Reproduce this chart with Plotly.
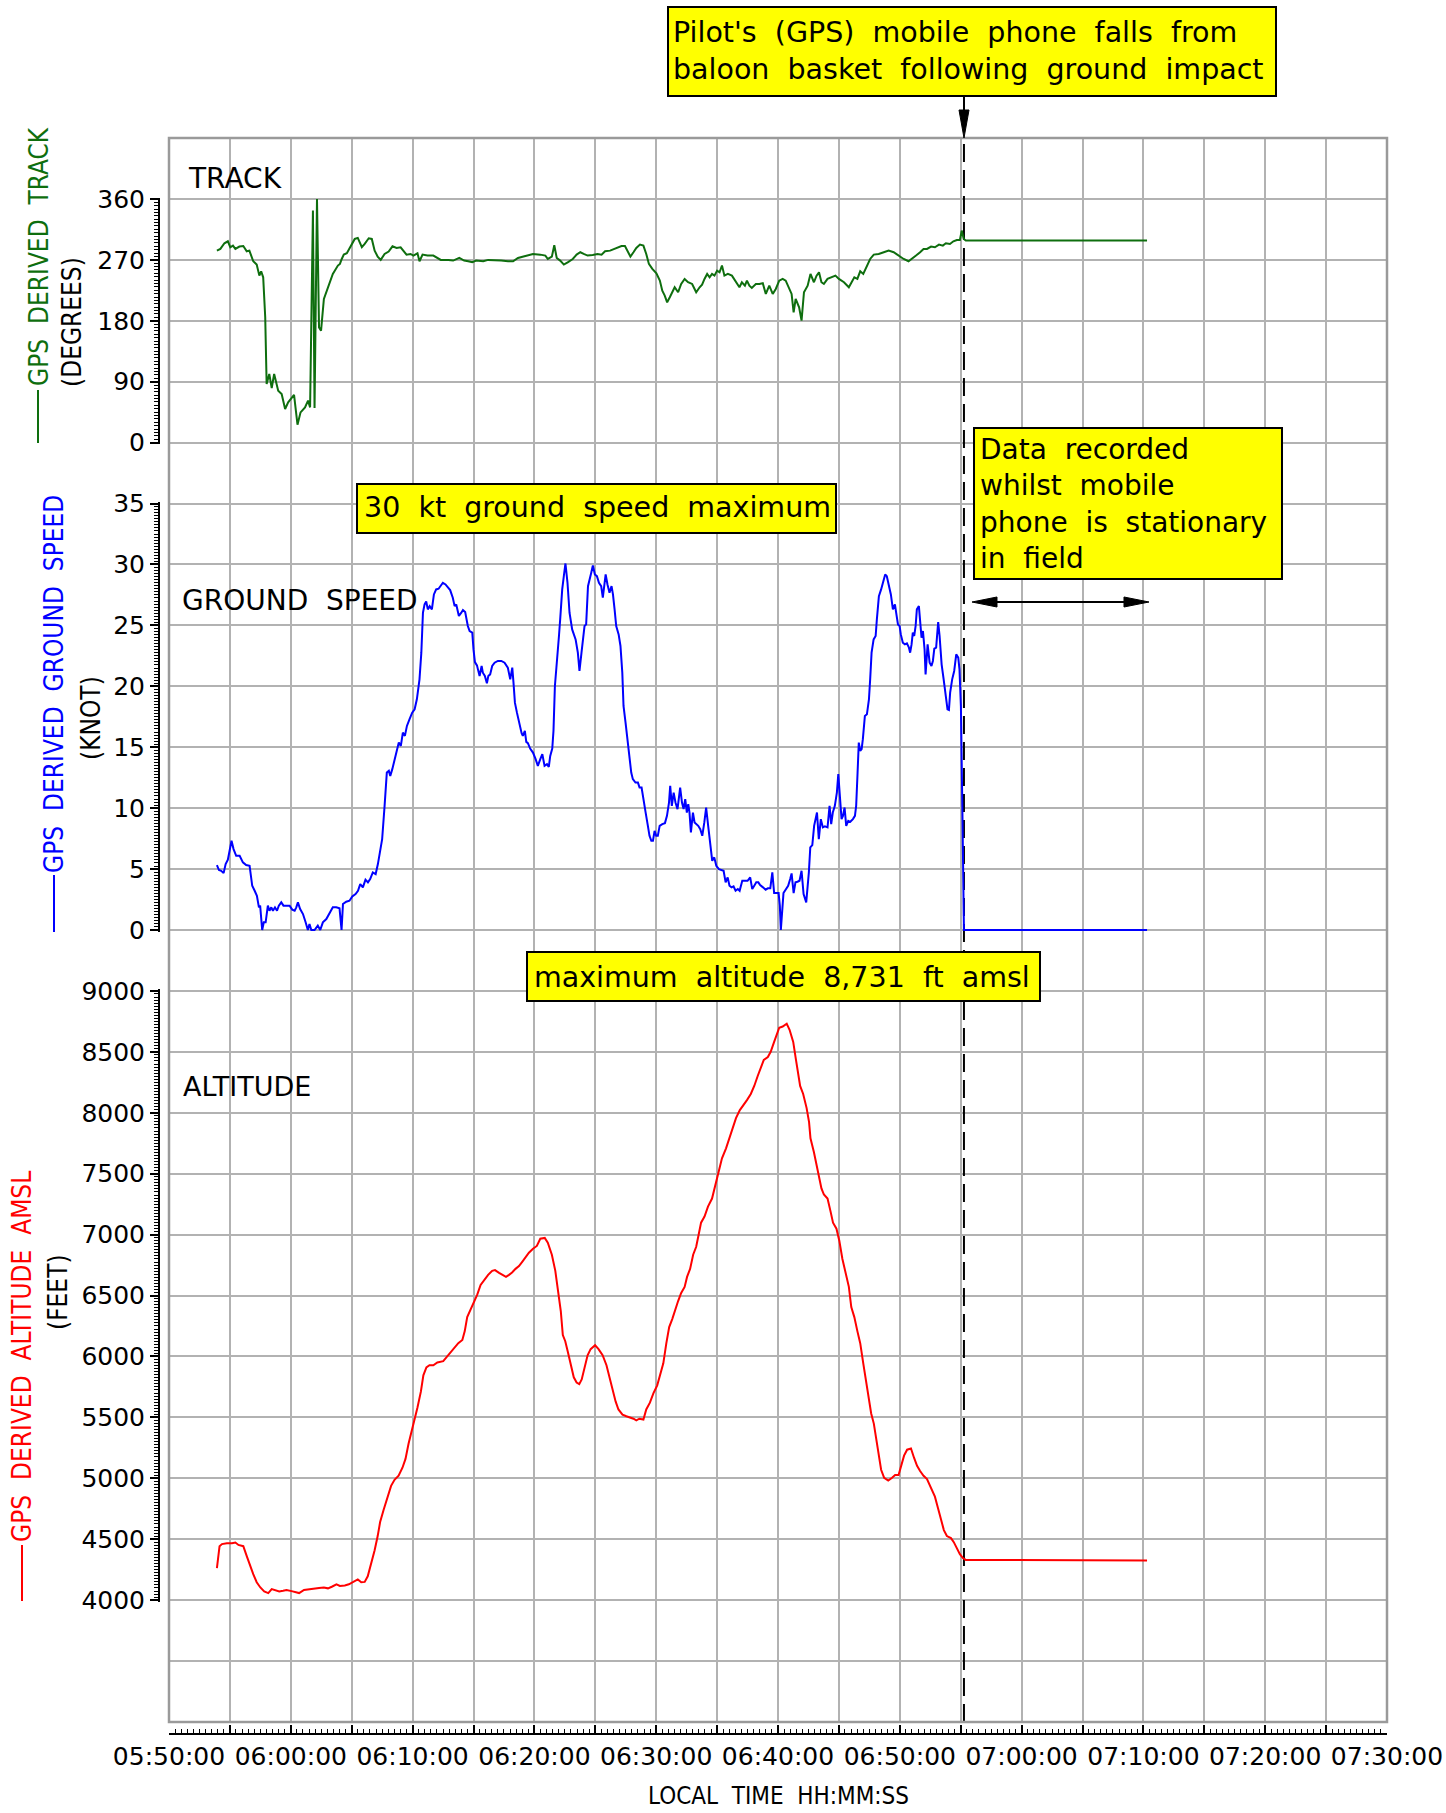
import plotly.graph_objects as go
import pandas as pd

# ---------------- data (time = seconds after 05:50:00 local) ----------------
DAY = "2000-01-01"
BASE = pd.Timestamp(DAY + " 05:50:00")

track_t_s = [236, 253, 273, 290, 302, 315, 327, 347, 366, 383, 396, 415, 432, 445, 454, 464, 474, 481, 494, 506,
             518, 538, 555, 572, 587, 616, 633, 648, 670, 685, 695, 709, 717, 729, 739, 749, 763, 783, 807, 832,
             842, 851, 861, 876, 896, 915, 930, 950, 964, 984, 999, 1013, 1028, 1043, 1062, 1082, 1101, 1121, 1141, 1155,
             1170, 1190, 1204, 1224, 1234, 1249, 1273, 1302, 1322, 1339, 1376, 1400, 1430, 1454, 1474, 1494, 1513, 1548, 1572, 1601,
             1636, 1670, 1695, 1719, 1749, 1768, 1793, 1829, 1854, 1866, 1886, 1898, 1910, 1927, 1945, 1964, 1989, 2008, 2026, 2043,
             2062, 2087, 2111, 2131, 2148, 2173, 2190, 2209, 2229, 2246, 2263, 2273, 2288, 2302, 2320, 2337, 2351, 2364, 2381, 2401,
             2418, 2430, 2442, 2454, 2467, 2479, 2491, 2508, 2523, 2540, 2557, 2577, 2597, 2614, 2626, 2638, 2651, 2663, 2675, 2687,
             2700, 2712, 2724, 2736, 2753, 2773, 2793, 2810, 2822, 2837, 2847, 2859, 2871, 2891, 2908, 2925, 2940, 2957, 2974, 2989,
             3006, 3023, 3038, 3053, 3067, 3077, 3087, 3104, 3116, 3128, 3146, 3160, 3177, 3190, 3202, 3214, 3226, 3244, 3263, 3283,
             3300, 3325, 3349, 3361, 3376, 3391, 3405, 3420, 3435, 3454, 3472, 3496, 3521, 3545, 3570, 3594, 3619, 3643, 3660, 3680,
             3700, 3717, 3734, 3754, 3773, 3793, 3812, 3827, 3847, 3864, 3881, 3896, 3905, 3915, 3925, 4818]
track_deg = [283.6, 286.1, 294.5, 297.4, 288.6, 291.0, 286.1, 289.6, 290.5, 282.7, 283.6, 267.9, 263.0, 246.7, 253.1, 244.2, 185.1, 86.6, 101.4, 80.7,
             101.4, 76.8, 71.8, 49.7, 59.5, 70.4, 26.5, 44.7, 52.1, 62.0, 52.1, 342.8, 51.1, 360.0, 170.3, 165.4, 212.2, 229.5, 249.2, 261.5,
             264.0, 271.3, 277.7, 279.7, 291.0, 300.9, 302.4, 288.6, 293.5, 301.9, 300.9, 283.6, 274.8, 269.9, 278.7, 282.2, 290.0, 287.6, 288.6, 283.6,
             277.7, 278.7, 276.3, 279.7, 267.9, 277.7, 276.3, 276.3, 272.8, 269.9, 269.9, 268.9, 272.8, 268.9, 267.9, 266.4, 268.9, 267.9, 269.9, 269.9,
             268.9, 267.9, 267.9, 272.8, 274.8, 276.3, 278.7, 277.7, 276.3, 271.3, 274.8, 291.5, 272.8, 268.9, 263.0, 266.4, 271.3, 277.7, 281.2, 278.7,
             276.3, 277.2, 278.7, 277.7, 282.7, 283.6, 285.6, 287.6, 290.5, 290.5, 281.2, 274.8, 281.2, 287.6, 292.5, 291.0, 278.7, 264.0, 256.6, 250.1,
             239.3, 224.5, 217.1, 207.3, 214.7, 222.1, 229.5, 222.1, 234.4, 241.8, 236.9, 234.4, 222.1, 229.5, 233.4, 241.8, 249.2, 244.2, 249.2, 246.7,
             254.1, 251.6, 261.5, 246.7, 249.2, 246.7, 236.9, 229.5, 236.9, 231.9, 239.3, 231.9, 228.5, 234.4, 234.4, 235.4, 219.6, 231.9, 219.6, 227.0,
             239.3, 241.8, 239.3, 229.5, 219.6, 192.5, 212.2, 199.9, 180.2, 222.1, 231.9, 249.2, 236.9, 246.7, 251.6, 236.9, 234.4, 241.8, 244.2, 246.7,
             241.8, 236.9, 229.5, 236.9, 244.2, 241.8, 253.1, 249.2, 259.0, 271.3, 277.7, 278.7, 281.2, 283.6, 281.2, 276.3, 271.3, 267.9, 271.3, 276.3,
             281.2, 286.1, 286.1, 289.6, 288.6, 292.5, 291.0, 294.5, 293.5, 297.4, 299.4, 299.4, 313.2, 300.9, 298.4, 298.6]

speed_t_s = [236, 246, 257, 269, 279, 290, 308, 318, 331, 348, 364, 380, 397, 410, 422, 433, 443, 449, 459, 467,
             476, 487, 495, 504, 512, 522, 532, 541, 553, 564, 577, 594, 607, 619, 627, 635, 646, 660, 673, 684,
             692, 701, 717, 733, 745, 758, 775, 791, 807, 824, 840, 850, 857, 873, 889, 903, 919, 931, 942, 955,
             968, 980, 991, 1004, 1018, 1029, 1037, 1050, 1062, 1073, 1083, 1090, 1100, 1111, 1123, 1132, 1142, 1152, 1162, 1172,
             1185, 1198, 1210, 1221, 1234, 1243, 1251, 1259, 1267, 1275, 1284, 1295, 1305, 1316, 1328, 1341, 1349, 1362, 1374, 1385,
             1398, 1407, 1415, 1428, 1440, 1448, 1459, 1472, 1481, 1494, 1500, 1507, 1517, 1530, 1540, 1546, 1556, 1566, 1573, 1582,
             1592, 1604, 1620, 1637, 1653, 1669, 1681, 1691, 1697, 1704, 1714, 1727, 1737, 1743, 1753, 1760, 1768, 1779, 1793, 1806,
             1817, 1829, 1839, 1850, 1862, 1871, 1878, 1888, 1894, 1901, 1911, 1921, 1927, 1937, 1947, 1953, 1963, 1973, 1986, 2003,
             2014, 2022, 2032, 2039, 2047, 2055, 2064, 2080, 2088, 2098, 2108, 2118, 2129, 2137, 2144, 2151, 2160, 2170, 2180, 2187,
             2195, 2203, 2215, 2224, 2233, 2239, 2249, 2261, 2269, 2277, 2285, 2298, 2310, 2318, 2328, 2338, 2348, 2359, 2367, 2376,
             2384, 2392, 2400, 2408, 2417, 2430, 2443, 2453, 2463, 2469, 2477, 2486, 2495, 2505, 2512, 2518, 2527, 2535, 2543, 2551,
             2558, 2564, 2571, 2581, 2589, 2597, 2607, 2617, 2627, 2637, 2646, 2656, 2666, 2676, 2686, 2696, 2709, 2720, 2732, 2742,
             2752, 2761, 2771, 2781, 2791, 2802, 2811, 2824, 2837, 2850, 2863, 2873, 2883, 2893, 2903, 2912, 2926, 2939, 2950, 2962,
             2972, 2981, 2991, 3003, 3009, 3014, 3027, 3041, 3050, 3060, 3067, 3077, 3086, 3096, 3106, 3116, 3126, 3139, 3152, 3159,
             3169, 3178, 3185, 3192, 3201, 3211, 3221, 3231, 3244, 3254, 3262, 3270, 3280, 3290, 3297, 3307, 3313, 3320, 3328, 3336,
             3346, 3356, 3369, 3379, 3385, 3392, 3398, 3405, 3412, 3418, 3428, 3438, 3448, 3454, 3461, 3471, 3481, 3487, 3497, 3508,
             3520, 3528, 3536, 3546, 3556, 3566, 3576, 3582, 3591, 3599, 3605, 3615, 3625, 3635, 3645, 3651, 3658, 3664, 3671, 3678,
             3684, 3694, 3701, 3707, 3714, 3722, 3727, 3737, 3747, 3756, 3763, 3770, 3779, 3789, 3796, 3806, 3816, 3825, 3835, 3842,
             3848, 3858, 3868, 3878, 3888, 3894, 3901, 3908, 3912, 3916, 4818]
speed_kt = [5.33, 4.92, 4.86, 4.67, 5.41, 5.77, 7.32, 6.64, 6.09, 6.09, 5.55, 5.33, 5.27, 3.63, 3.22, 2.81, 1.86, 2.0, 0.0, 0.63,
            0.63, 2.0, 1.58, 1.86, 1.58, 1.86, 1.58, 2.0, 2.27, 2.0, 2.0, 2.0, 1.67, 1.58, 1.86, 2.27, 1.72, 1.31, 0.63, 0.0,
            0.49, 0.0, 0.0, 0.36, 0.0, 0.63, 0.90, 1.45, 1.86, 1.86, 1.78, 0.0, 2.13, 2.32, 2.40, 2.76, 2.95, 3.22, 3.77, 3.50,
            4.13, 3.91, 4.18, 4.73, 4.59, 5.41, 6.23, 7.46, 10.19, 12.92, 13.06, 12.65, 13.20, 14.02, 14.84, 15.38, 15.11, 16.20, 15.93, 16.75,
            17.30, 17.84, 18.11, 18.93, 20.57, 22.76, 26.04, 26.72, 26.97, 26.31, 26.58, 26.31, 27.54, 27.95, 28.01, 28.36, 28.50, 28.36, 28.09, 27.90,
            27.27, 26.58, 26.72, 25.77, 26.04, 26.26, 26.09, 24.95, 24.54, 24.40, 23.03, 21.99, 21.72, 20.85, 21.67, 21.12, 20.85, 20.25, 20.85, 20.98,
            21.67, 21.94, 22.08, 22.08, 21.94, 21.53, 20.57, 21.53, 20.30, 18.66, 17.84, 16.75, 16.15, 15.93, 16.34, 15.44, 15.33, 14.89, 14.56, 14.02,
            13.47, 14.02, 14.43, 13.47, 13.61, 13.39, 14.29, 14.89, 16.34, 20.03, 22.49, 24.13, 25.49, 27.95, 29.32, 30.08, 28.50, 26.04, 24.67, 23.85,
            22.76, 21.26, 22.76, 23.85, 24.95, 25.08, 28.22, 29.32, 29.92, 29.18, 29.04, 28.50, 28.22, 27.27, 28.50, 29.18, 28.36, 27.68, 28.22, 27.54,
            26.31, 24.95, 24.26, 23.31, 21.12, 18.39, 17.02, 15.11, 14.02, 12.92, 12.38, 12.10, 12.10, 11.69, 11.69, 10.46, 9.64, 8.55, 7.73, 7.32,
            7.32, 8.14, 7.73, 7.73, 8.55, 8.69, 8.77, 9.37, 10.46, 11.83, 10.19, 11.28, 10.46, 9.92, 10.74, 11.69, 10.46, 9.92, 10.74, 9.64,
            10.33, 9.64, 8.01, 9.64, 8.83, 8.69, 8.55, 8.28, 7.73, 8.83, 10.05, 8.55, 6.91, 5.68, 5.96, 5.27, 5.00, 4.95, 4.86, 3.91,
            4.32, 3.63, 3.50, 3.58, 3.22, 3.36, 3.22, 4.04, 4.04, 4.04, 4.32, 3.36, 3.63, 3.91, 3.91, 3.69, 3.50, 3.31, 3.42, 3.42,
            4.73, 3.03, 3.03, 3.03, 2.00, 0.0, 3.03, 3.36, 3.63, 4.18, 4.64, 3.03, 3.91, 3.96, 4.04, 4.86, 2.95, 2.27, 4.73, 6.78,
            6.97, 8.55, 9.10, 9.64, 7.46, 9.10, 8.42, 8.50, 8.42, 10.19, 8.69, 9.64, 10.19, 11.28, 12.79, 10.74, 9.10, 9.37, 10.05, 8.55,
            8.96, 8.88, 9.10, 9.37, 10.19, 12.92, 15.38, 14.70, 14.84, 15.66, 17.57, 17.70, 18.93, 20.57, 22.76, 23.85, 24.13, 25.49, 27.40, 27.95,
            28.77, 29.18, 29.04, 28.22, 27.54, 26.31, 26.72, 26.04, 25.08, 24.95, 24.26, 23.58, 23.44, 23.52, 23.17, 22.76, 23.44, 24.40, 24.13, 24.95,
            26.31, 26.58, 25.22, 23.99, 24.54, 23.03, 20.98, 23.44, 21.94, 21.67, 22.08, 23.09, 23.17, 25.27, 24.13, 21.80, 20.57, 19.21, 18.11, 18.06,
            19.48, 20.57, 21.26, 22.62, 22.35, 21.39, 18.39, 10.19, 4.73, 0.0, 0.0]

alt_t_s = [236, 249, 261, 285, 310, 327, 342, 366, 383, 396, 415, 432, 450, 469, 489, 506, 523, 543, 562, 579,
           604, 621, 641, 665, 690, 714, 739, 763, 783, 802, 825, 842, 866, 886, 905, 930, 947, 964, 979, 996,
           1013, 1028, 1040, 1057, 1077, 1094, 1111, 1131, 1150, 1165, 1180, 1195, 1209, 1224, 1241, 1253, 1268, 1283, 1302, 1322,
           1351, 1371, 1391, 1410, 1425, 1445, 1457, 1469, 1486, 1503, 1518, 1535, 1552, 1572, 1592, 1606, 1626, 1646, 1660, 1675,
           1690, 1707, 1724, 1739, 1756, 1773, 1793, 1812, 1829, 1851, 1866, 1886, 1903, 1915, 1930, 1940, 1952, 1964, 1979, 1994,
           2008, 2021, 2033, 2050, 2062, 2077, 2099, 2116, 2136, 2155, 2170, 2185, 2200, 2214, 2234, 2253, 2273, 2288, 2302, 2317,
           2337, 2351, 2369, 2386, 2405, 2420, 2435, 2450, 2464, 2479, 2494, 2508, 2523, 2540, 2552, 2567, 2582, 2597, 2609, 2621,
           2638, 2655, 2675, 2690, 2700, 2712, 2724, 2744, 2761, 2778, 2793, 2812, 2827, 2847, 2866, 2883, 2900, 2915, 2930, 2950,
           2964, 2981, 2994, 3006, 3023, 3043, 3057, 3075, 3087, 3097, 3109, 3124, 3141, 3153, 3160, 3177, 3190, 3202, 3214, 3226,
           3244, 3258, 3271, 3288, 3302, 3317, 3332, 3349, 3361, 3376, 3391, 3405, 3420, 3435, 3447, 3459, 3472, 3484, 3496, 3508,
           3523, 3543, 3562, 3577, 3594, 3606, 3621, 3636, 3655, 3670, 3685, 3700, 3717, 3734, 3754, 3773, 3788, 3803, 3817, 3832,
           3852, 3866, 3881, 3896, 3911, 3925, 4818]
alt_ft = [4262, 4443, 4460, 4467, 4467, 4473, 4453, 4443, 4361, 4295, 4213, 4147, 4104, 4071, 4058, 4091, 4081, 4071, 4077, 4084,
          4074, 4064, 4058, 4084, 4091, 4097, 4100, 4104, 4097, 4110, 4130, 4117, 4120, 4130, 4147, 4170, 4147, 4150, 4196, 4295,
          4410, 4526, 4641, 4740, 4856, 4938, 4988, 5021, 5087, 5159, 5284, 5383, 5466, 5581, 5713, 5845, 5911, 5928, 5928, 5951,
          5961, 6003, 6043, 6076, 6109, 6135, 6208, 6323, 6389, 6445, 6505, 6587, 6630, 6670, 6703, 6709, 6686, 6663, 6653, 6670,
          6689, 6719, 6742, 6775, 6818, 6851, 6884, 6907, 6966, 6973, 6933, 6835, 6703, 6571, 6373, 6175, 6125, 6043, 5928, 5829,
          5786, 5773, 5812, 5928, 6010, 6060, 6092, 6060, 6010, 5928, 5829, 5713, 5631, 5565, 5522, 5509, 5499, 5489, 5476, 5489,
          5482, 5565, 5621, 5697, 5763, 5845, 5944, 6109, 6241, 6307, 6389, 6455, 6521, 6571, 6653, 6719, 6835, 6900, 6999, 7098,
          7148, 7230, 7296, 7395, 7461, 7544, 7626, 7708, 7798, 7890, 7956, 8022, 8055, 8104, 8154, 8220, 8302, 8368, 8434, 8457,
          8500, 8582, 8648, 8698, 8708, 8731, 8681, 8582, 8451, 8352, 8220, 8154, 8038, 7923, 7791, 7676, 7560, 7461, 7379, 7329,
          7296, 7197, 7098, 7049, 6950, 6802, 6686, 6571, 6406, 6323, 6208, 6109, 5944, 5796, 5664, 5532, 5449, 5334, 5186, 5070,
          5004, 4981, 5004, 5027, 5027, 5103, 5186, 5235, 5245, 5169, 5103, 5060, 5021, 4994, 4922, 4849, 4757, 4658, 4575, 4526,
          4509, 4476, 4427, 4378, 4345, 4330, 4325]

track_ticks = [0, 90, 180, 270, 360]
speed_ticks = [0, 5, 10, 15, 20, 25, 30, 35]
alt_ticks = [4000, 4500, 5000, 5500, 6000, 6500, 7000, 7500, 8000, 8500, 9000]
x_ticks = ["05:50:00", "05:55:00", "06:00:00", "06:05:00", "06:10:00", "06:15:00", "06:20:00", "06:25:00",
           "06:30:00", "06:35:00", "06:40:00", "06:45:00", "06:50:00", "06:55:00", "07:00:00", "07:05:00",
           "07:10:00", "07:15:00", "07:20:00", "07:25:00", "07:30:00"]
impact_time = "06:55:16"
GRID_ROWS = 26


def to_time(secs):
    return [BASE + pd.Timedelta(seconds=s) for s in secs]


def d(hms):
    return DAY + " " + hms


# ---------------- layout geometry ----------------
W, H = 1446, 1813
L, R, T, B = 159, 1387, 138, 1734      # plot area (px)
GL, GB = 169, 1722                      # grid left / bottom (px)
ROW = (GB - T) / float(GRID_ROWS)


def px(x):
    return (x - L) / (R - L)


def py(y):
    return (B - y) / (B - T)


def dom(lo, hi, v0, k0, dv):
    line = lambda v: k0 - (v - v0) / dv
    return [py(T + line(lo) * ROW), py(T + line(hi) * ROW)]


GREEN, BLUE, RED = "#0e6e0e", "#0000ff", "#ff0000"
GRIDC = "#b2b2b2"
FONT = "DejaVu Sans"
COND = "DejaVu Sans Condensed, DejaVu Sans"
SP = " \u00a0"

fig = go.Figure()
# impact time reference line (on the full-height grid axis)
fig.add_trace(go.Scatter(x=[d(impact_time), d(impact_time)], y=[0, GRID_ROWS], xaxis="x", yaxis="y", mode="lines",
                         line=dict(color="black", width=2, dash="18px,8px"), showlegend=False, hoverinfo="skip"))
fig.add_trace(go.Scatter(x=to_time(track_t_s), y=track_deg, xaxis="x", yaxis="y2", mode="lines",
                         line=dict(color=GREEN, width=2), showlegend=False, hoverinfo="skip"))
fig.add_trace(go.Scatter(x=to_time(speed_t_s), y=speed_kt, xaxis="x", yaxis="y3", mode="lines",
                         line=dict(color=BLUE, width=2), showlegend=False, hoverinfo="skip"))
fig.add_trace(go.Scatter(x=to_time(alt_t_s), y=alt_ft, xaxis="x", yaxis="y4", mode="lines",
                         line=dict(color=RED, width=2), showlegend=False, hoverinfo="skip"))

tickfont = dict(family=FONT, size=25, color="black")

panel_axis = dict(anchor="free", position=0, showgrid=False, zeroline=False, showline=True,
                  linecolor="black", linewidth=2, ticks="outside", ticklen=8, tickwidth=2, tickcolor="black",
                  tickfont=tickfont, tickmode="array", automargin=False, fixedrange=True)

fig.update_layout(
    width=W, height=H, autosize=False,
    margin=dict(l=L, r=W - R, t=T, b=H - B),
    paper_bgcolor="white", plot_bgcolor="rgba(0,0,0,0)", showlegend=False,
    xaxis=dict(domain=[px(GL), 1], type="date", range=[d("05:50:00"), d("07:30:00")],
               anchor="free", position=0, tickmode="array", tickvals=[d(t) for t in x_ticks],
               ticktext=[t if i % 2 == 0 else "" for i, t in enumerate(x_ticks)],
               ticks="inside", ticklen=8, tickwidth=2, tickcolor="black",
               showline=True, linecolor="black", linewidth=2,
               showgrid=True, gridcolor=GRIDC, gridwidth=1.5, zeroline=False,
               minor=dict(tickmode="linear", tick0=d("05:50:00"), dtick=30000, ticks="inside",
                          ticklen=4, tickwidth=1, tickcolor="black", showgrid=False),
               tickfont=tickfont, automargin=False, fixedrange=True),
    yaxis=dict(domain=[py(GB), 1], range=[0, GRID_ROWS], anchor="x", tickmode="linear", tick0=0, dtick=1,
               showticklabels=False, ticks="", showgrid=True, gridcolor=GRIDC, gridwidth=1.5,
               zeroline=False, showline=False, automargin=False, fixedrange=True),
    yaxis2=dict(panel_axis, domain=dom(-2, 362, 0, 5, 90), range=[-2, 362], tickvals=track_ticks,
                minor=dict(tickmode="linear", tick0=0, dtick=5, ticks="outside", ticklen=4,
                           tickwidth=1, tickcolor="black", showgrid=False)),
    yaxis3=dict(panel_axis, domain=dom(-0.15, 35.15, 0, 13, 5), range=[-0.15, 35.15], tickvals=speed_ticks,
                minor=dict(tickmode="linear", tick0=0, dtick=0.25, ticks="outside", ticklen=4,
                           tickwidth=1, tickcolor="black", showgrid=False)),
    yaxis4=dict(panel_axis, domain=dom(3985, 9015, 4000, 24, 500), range=[3985, 9015], tickvals=alt_ticks,
                minor=dict(tickmode="linear", tick0=4000, dtick=25, ticks="outside", ticklen=4,
                           tickwidth=1, tickcolor="black", showgrid=False)),
)

shapes = []
# grid border
shapes.append(dict(type="rect", xref="x domain", yref="y domain", x0=0, x1=1, y0=0, y1=1,
                   line=dict(color="#9a9a9a", width=2.5), layer="above"))


def rect(x0, y0, x1, y1, fill, lc, lw):
    return dict(type="rect", xref="paper", yref="paper", x0=px(x0), x1=px(x1), y0=py(y1), y1=py(y0),
                fillcolor=fill, line=dict(color=lc, width=lw), layer="above")


def seg(x0, y0, x1, y1, color, w=2):
    return dict(type="line", xref="paper", yref="paper", x0=px(x0), x1=px(x1), y0=py(y0), y1=py(y1),
                line=dict(color=color, width=w), layer="above")


def tri(pts):
    path = "M " + " L ".join(f"{px(a):.5f},{py(b):.5f}" for a, b in pts) + " Z"
    return dict(type="path", xref="paper", yref="paper", path=path, fillcolor="black",
                line=dict(color="black", width=1), layer="above")


# yellow boxes
shapes.append(rect(668, 7, 1276, 96, "#ffff00", "black", 2))
shapes.append(rect(357, 484, 836, 533, "#ffff00", "black", 2))
shapes.append(rect(974, 428, 1282, 579, "#ffff00", "black", 2))
shapes.append(rect(527, 952, 1040, 1001, "#ffff00", "black", 2))
# arrow from top box to impact line
shapes.append(seg(964, 96, 964, 114, "black", 2))
shapes.append(tri([(964, 138), (959, 110), (969, 110)]))
# double arrow (stationary period)
shapes.append(seg(990, 602, 1130, 602, "black", 2))
shapes.append(tri([(972, 602), (997, 597), (997, 607)]))
shapes.append(tri([(1149, 602), (1124, 597), (1124, 607)]))
# legend line glyphs in the axis titles
shapes.append(seg(38, 390, 38, 443, GREEN, 2))
shapes.append(seg(54, 875, 54, 932, BLUE, 2))
shapes.append(seg(22, 1545, 22, 1601, RED, 2))
fig.update_layout(shapes=shapes)

ann = []


def text(x, y, s, size=28, color="black", family=FONT, xanchor="left", angle=0, yanchor="middle", align="left"):
    ann.append(dict(xref="paper", yref="paper", x=px(x), y=py(y), text=s, showarrow=False,
                    xanchor=xanchor, yanchor=yanchor, textangle=angle, align=align,
                    font=dict(family=family, size=size, color=color)))


def lines(*rows):
    return "<br>".join(SP.join(r.split()) for r in rows)


# panel labels
text(186, 179, "TRACK", 28)
text(180, 600, "GROUND" + SP + "SPEED", 28)
text(181, 1086, "ALTITUDE", 27)
# axis titles
text(39, 257, SP.join(["GPS", "DERIVED", "TRACK"]), 26, GREEN, COND, "center", -90)
text(72, 322, "(DEGREES)", 26, "black", COND, "center", -90)
text(54, 684, SP.join(["GPS", "DERIVED", "GROUND", "SPEED"]), 26, BLUE, COND, "center", -90)
text(91, 718, "(KNOT)", 26, "black", COND, "center", -90)
text(22, 1357, SP.join(["GPS", "DERIVED", "ALTITUDE", "AMSL"]), 26, RED, COND, "center", -90)
text(58, 1292, "(FEET)", 26, "black", COND, "center", -90)
# x axis title
text(778, 1812, "LOCAL" + SP + "TIME" + SP + "HH:MM:SS", 24, "black", COND, "center", yanchor="bottom")
# box texts
text(671, 51.5, lines("Pilot's (GPS) mobile phone falls from", "baloon basket following ground impact"), 28.5)
text(362, 508, lines("30 kt ground speed maximum"), 28.5)
text(978, 504, lines("Data recorded", "whilst mobile", "phone is stationary", "in field"), 28)
text(532, 977, lines("maximum altitude 8,731 ft amsl"), 28.5)
fig.update_layout(annotations=ann)

fig.write_html("out.html", post_script="document.body.style.margin='0px';",
               config={"displayModeBar": False})
